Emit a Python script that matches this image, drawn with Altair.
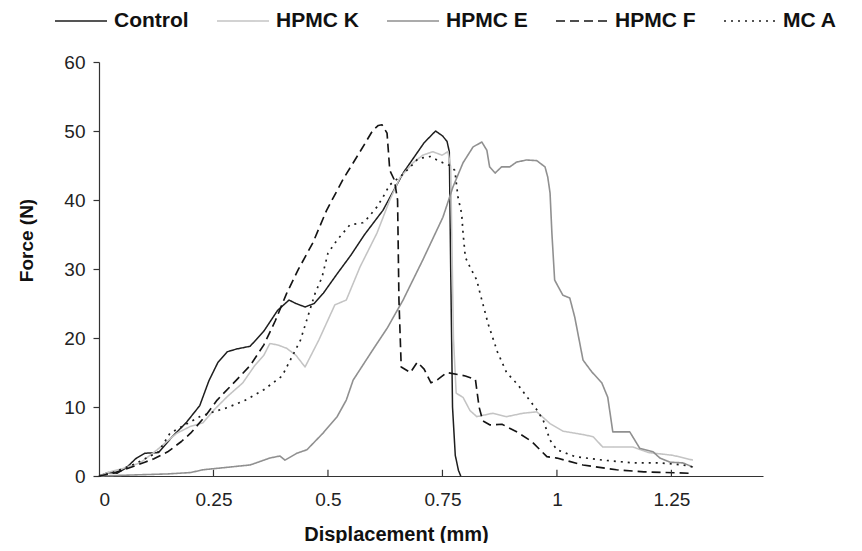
import altair as alt
import pandas as pd

series_names = ["Control", "HPMC K", "HPMC E", "HPMC F", "MC A"]

control_x = [0, 0.02, 0.04, 0.06, 0.08, 0.1, 0.13, 0.16, 0.19, 0.22, 0.24, 0.26, 0.28, 0.3, 0.33, 0.36, 0.39,
             0.415, 0.43, 0.45, 0.47, 0.49, 0.52, 0.55, 0.58, 0.62, 0.665, 0.71, 0.735, 0.75, 0.76, 0.765,
             0.768, 0.772, 0.778, 0.785, 0.79]
control_y = [0, 0.5, 0.4, 1.2, 2.5, 3.3, 3.4, 5.7, 7.7, 10.2, 13.8, 16.5, 18, 18.4, 18.8, 21, 24,
             25.5, 25, 24.5, 25, 26.5, 29.3, 32, 35, 38.5, 44, 48.3, 50, 49.3, 48.5, 47,
             30, 10, 3, 0.8, 0]

hpmck_x = [0, 0.024, 0.052, 0.09, 0.127, 0.17, 0.2, 0.227, 0.25, 0.28, 0.314, 0.34, 0.36, 0.373, 0.39, 0.41,
           0.43, 0.45, 0.48, 0.515, 0.54, 0.57, 0.607, 0.635, 0.657, 0.686, 0.707, 0.729, 0.749, 0.762,
           0.768, 0.774, 0.78, 0.795, 0.81, 0.825, 0.86, 0.89, 0.926, 0.956, 0.985, 1.013, 1.057, 1.079,
           1.1, 1.131, 1.166, 1.2, 1.253, 1.297]
hpmck_y = [0, 0.6, 1.1, 1.9, 3.8, 6.2, 7.2, 7.7, 9.5, 11.5, 13.5, 16, 17.5, 19.2, 19, 18.5,
           17.5, 15.8, 19.7, 24.8, 25.5, 30.3, 35.2, 40, 43.2, 45.4, 46.5, 47, 46.5, 47,
           44.8, 20, 12, 11.4, 9.5, 8.6, 9.1, 8.6, 9.1, 9.3, 7.6, 6.5, 6, 5.7,
           4.2, 4.2, 4.2, 3.4, 3.0, 2.3]

hpmce_x = [0, 0.05, 0.1, 0.15, 0.2, 0.227, 0.286, 0.33, 0.373, 0.395, 0.406, 0.432, 0.454, 0.489, 0.52,
           0.54, 0.555, 0.6, 0.63, 0.664, 0.707, 0.751, 0.773, 0.795, 0.817, 0.836, 0.847, 0.853, 0.865,
           0.879, 0.897, 0.912, 0.934, 0.956, 0.974, 0.98, 0.985, 0.989, 0.995, 1.013, 1.028, 1.039,
           1.057, 1.076, 1.098, 1.111, 1.122, 1.159, 1.17, 1.181, 1.21, 1.225, 1.247, 1.275, 1.297]
hpmce_y = [0, 0.1, 0.2, 0.3, 0.5, 0.9, 1.3, 1.6, 2.6, 2.9, 2.3, 3.3, 3.8, 6.2, 8.6,
           11, 13.9, 18.5, 21.5, 25.5, 31.3, 37.5, 41.9, 45.4, 47.7, 48.4, 47.2, 44.8, 43.9,
           44.8, 44.8, 45.5, 45.8, 45.7, 44.8, 43.3, 41, 35.2, 28.4, 26.2, 25.8, 23,
           16.8, 15.1, 13.5, 11.4, 6.4, 6.4, 5.2, 4, 3.5, 2.6, 2.0, 1.9, 1.3]

hpmcf_x = [0, 0.03, 0.05, 0.08, 0.1, 0.12, 0.15, 0.18, 0.2, 0.23, 0.258, 0.3, 0.33, 0.36, 0.385, 0.41,
           0.435, 0.467, 0.497, 0.533, 0.57, 0.598, 0.61, 0.618, 0.629, 0.635, 0.645, 0.652, 0.655,
           0.66, 0.68, 0.695, 0.71, 0.725, 0.74, 0.76, 0.8, 0.822, 0.83, 0.838, 0.854, 0.88, 0.912,
           0.945, 0.978, 1.0, 1.057, 1.13, 1.19, 1.29]
hpmcf_y = [0, 0.4, 0.8, 1.5, 2, 2.5, 3.5, 5, 6.2, 8.5, 11, 13.9, 16, 19, 22.5, 26.5,
           29.9, 33.8, 38.5, 43, 47, 50.1, 50.8, 50.9, 49.7, 44.3, 42.9, 40, 25.5,
           15.8, 15, 16.5, 15.5, 13.5, 14, 15, 14.5, 14, 10, 8, 7.4, 7.5, 6.4,
           5, 2.8, 2.6, 1.6, 0.9, 0.6, 0.4]

mca_x = [0, 0.03, 0.05, 0.08, 0.1, 0.13, 0.155, 0.19, 0.22, 0.25, 0.28, 0.32, 0.36, 0.4, 0.44, 0.472,
         0.487, 0.5, 0.52, 0.548, 0.576, 0.587, 0.607, 0.62, 0.635, 0.66, 0.68, 0.697, 0.723, 0.738,
         0.751, 0.766, 0.777, 0.784, 0.792, 0.795, 0.8, 0.81, 0.825, 0.832, 0.85, 0.87, 0.89, 0.915,
         0.956, 0.97, 0.985, 1.0, 1.04, 1.1, 1.166, 1.225, 1.275, 1.297]
mca_y = [0, 0.5, 1, 1.8, 2.5, 3.5, 6.2, 7.5, 8.6, 9.3, 9.9, 11, 12.5, 14.5, 19.7, 26.5,
         28.8, 32.3, 34.2, 36.4, 36.7, 37.4, 39, 40.4, 42.2, 43.5, 44.8, 46, 46.3, 45.8,
         45.4, 45, 44.3, 40.4, 38, 35.2, 31.7, 30.3, 28.4, 26.5, 22, 18, 15, 13.2,
         9.6, 8.1, 5.2, 3.8, 2.8, 2.3, 1.9, 1.9, 1.6, 1.3]

x_tick_values = [0, 0.25, 0.5, 0.75, 1, 1.25]
x_inner_ticks = [0.25, 0.5, 0.75, 1, 1.25]
y_tick_values = [0, 10, 20, 30, 40, 50, 60]

colors = ["#1e1e1e", "#c4c4c4", "#909090", "#141414", "#1e1e1e"]
dashes = [[1, 0], [1, 0], [1, 0], [9, 5], [2, 5]]
widths = [1.5, 1.7, 1.7, 2.0, 2.0]

rows = []
for name, xs, ys in zip(series_names,
                        [control_x, hpmck_x, hpmce_x, hpmcf_x, mca_x],
                        [control_y, hpmck_y, hpmce_y, hpmcf_y, mca_y]):
    for i, (a, b) in enumerate(zip(xs, ys)):
        rows.append({"series": name, "x": a, "y": b, "i": i})
df = pd.DataFrame(rows)

x_scale = alt.Scale(domain=[0, 1.45], nice=False, zero=False)
y_scale = alt.Scale(domain=[0, 60], nice=False)

leg = alt.Legend(
    title=None, orient="none", direction="horizontal", legendX=-45, legendY=-68,
    symbolType="stroke", symbolSize=2704, labelFontSize=21, labelFontWeight="bold",
    labelColor="#111", columnPadding=24, labelOffset=6, padding=0,
    labelFont="Liberation Sans",
)

lines = alt.Chart(df).mark_line(strokeCap="butt", strokeJoin="round").encode(
    x=alt.X("x:Q", scale=x_scale, title="Displacement (mm)",
            axis=alt.Axis(values=x_tick_values, format=".2~f", ticks=False, labelPadding=14,
                          titleX=297, titleY=58, titleBaseline="middle", titleAlign="center",
                          titleFontSize=20)),
    y=alt.Y("y:Q", scale=y_scale, title="Force (N)",
            axis=alt.Axis(values=y_tick_values, format="d", tickSize=6, labelPadding=8,
                          titleX=-73, titleY=178, titleBaseline="middle", titleAlign="center",
                          titleAngle=270)),
    color=alt.Color("series:N", scale=alt.Scale(domain=series_names, range=colors), legend=leg),
    strokeDash=alt.StrokeDash("series:N", scale=alt.Scale(domain=series_names, range=dashes), legend=leg),
    strokeWidth=alt.StrokeWidth("series:N", scale=alt.Scale(domain=series_names, range=widths), legend=leg),
    order="i:Q",
)

tick_df = pd.DataFrame({"t": x_inner_ticks})
inner_ticks = alt.Chart(tick_df).mark_rule(color="#333", strokeWidth=1.2).encode(
    x=alt.X("t:Q", scale=x_scale),
    y=alt.datum(0),
    y2=alt.datum(0.9),
)

chart = alt.layer(lines, inner_ticks).properties(
    width=664, height=414,
    autosize=alt.AutoSizeParams(type="none"),
    padding={"left": 91, "top": 54, "right": 87, "bottom": 67},
).configure(
    font="Liberation Sans",
).configure_view(
    stroke=None,
).configure_axis(
    grid=False, domainColor="#333", domainWidth=1.2, tickColor="#333", tickWidth=1.2,
    labelFont="Liberation Sans", labelFontSize=19, labelColor="#222",
    titleFont="Liberation Sans", titleFontSize=19, titleFontWeight="bold", titleColor="#111",
)

chart.save("out.html", embed_options={"renderer": "svg", "actions": False})
